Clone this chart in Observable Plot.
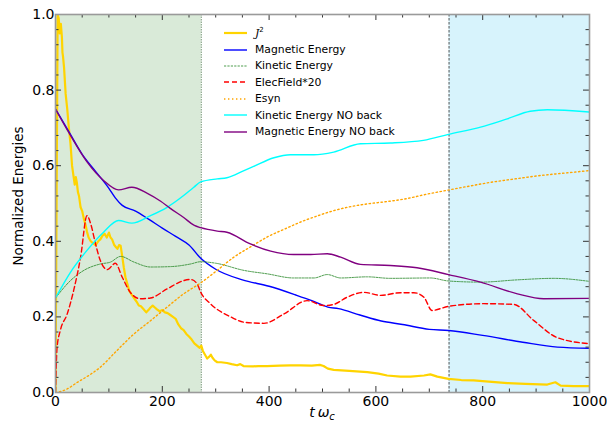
<!DOCTYPE html>
<html>
<head>
<meta charset="utf-8">
<script src="https://cdn.jsdelivr.net/npm/d3@7"></script>
<script src="https://cdn.jsdelivr.net/npm/@observablehq/plot@0.6"></script>
<style>
  body { margin: 0; background: #fff; }
  #wrap { position: relative; width: 607px; height: 426px; font-family: "DejaVu Sans", sans-serif; }
  #legend { position: absolute; left: 222px; top: 25px; font-size: 10.8px; color: #000; }
  .row { display: flex; align-items: center; height: 16.4px; }
  .row svg { width: 26px; height: 10px; margin-right: 7px; }
</style>
</head>
<body>
<div id="wrap"></div>
<script>
// ---------- data ----------
const xTicks = [0, 200, 400, 600, 800, 1000];
const yTicks = [0, 0.2, 0.4, 0.6, 0.8, 1.0];
const greenSpan = [0, 273];
const blueSpan = [737, 1000];

const j2 = [[0,0],[2,0.5],[4,1.0],[6,0.99],[8,0.95],[10,0.975],[12,0.94],[13,0.9],[14,0.89],[16,0.86],[19,0.79],[22,0.75],[25,0.7],[28,0.66],[31,0.6],[34,0.57],[36,0.55],[38,0.57],[40,0.555],[42,0.53],[44,0.52],[47,0.49],[50,0.48],[53,0.46],[56,0.445],[59,0.425],[62,0.41],[66,0.4],[70,0.395],[75,0.39],[80,0.4],[84,0.405],[88,0.415],[92,0.42],[96,0.41],[100,0.423],[103,0.41],[106,0.405],[110,0.39],[113,0.385],[116,0.38],[119,0.39],[122,0.388],[125,0.36],[128,0.33],[131,0.305],[134,0.29],[138,0.27],[142,0.26],[147,0.25],[152,0.24],[156,0.23],[160,0.228],[165,0.22],[170,0.212],[174,0.218],[178,0.225],[182,0.23],[186,0.225],[190,0.22],[195,0.215],[200,0.218],[205,0.212],[210,0.21],[215,0.205],[220,0.2],[225,0.195],[230,0.18],[235,0.17],[240,0.165],[245,0.155],[250,0.148],[255,0.14],[260,0.13],[265,0.124],[270,0.118],[273,0.124],[276,0.11],[280,0.1],[284,0.09],[288,0.095],[291,0.1],[294,0.092],[298,0.085],[303,0.08],[310,0.08],[321,0.078],[330,0.075],[340,0.072],[346,0.075],[352,0.07],[370,0.069],[380,0.07],[396,0.07],[420,0.071],[440,0.072],[459,0.072],[480,0.071],[495,0.073],[502,0.07],[510,0.063],[521,0.06],[550,0.057],[584,0.054],[605,0.05],[621,0.045],[646,0.042],[665,0.042],[690,0.045],[702,0.048],[715,0.042],[736,0.036],[760,0.033],[783,0.032],[800,0.03],[846,0.025],[880,0.023],[921,0.021],[936,0.027],[946,0.018],[970,0.017],[1000,0.017]];

const magnetic = [[0,0.75],[25,0.69],[50,0.63],[75,0.585],[100,0.54],[112,0.515],[125,0.495],[150,0.48],[175,0.458],[200,0.435],[225,0.413],[250,0.39],[272,0.355],[300,0.326],[350,0.298],[400,0.281],[450,0.258],[480,0.243],[510,0.226],[530,0.222],[570,0.205],[610,0.189],[650,0.18],[700,0.167],[736,0.164],[800,0.151],[875,0.133],[940,0.12],[1000,0.117]];

const kinetic = [[0,0.25],[28,0.296],[53,0.323],[84,0.34],[103,0.345],[122,0.36],[147,0.345],[178,0.332],[215,0.333],[253,0.34],[272,0.346],[300,0.342],[353,0.323],[396,0.314],[446,0.303],[484,0.303],[509,0.312],[534,0.303],[584,0.306],[627,0.302],[702,0.303],[736,0.295],[796,0.292],[865,0.298],[933,0.302],[1000,0.294]];

const elecField = [[0,0],[3,0.12],[9,0.164],[22,0.208],[34,0.27],[47,0.358],[59,0.468],[66,0.446],[75,0.393],[84,0.349],[97,0.325],[112,0.342],[125,0.305],[140,0.265],[159,0.248],[178,0.25],[209,0.274],[240,0.296],[253,0.299],[265,0.288],[272,0.265],[290,0.235],[328,0.2],[353,0.186],[390,0.183],[428,0.208],[471,0.243],[502,0.23],[521,0.233],[546,0.252],[577,0.265],[609,0.257],[646,0.264],[671,0.264],[690,0.252],[705,0.217],[736,0.228],[802,0.235],[858,0.233],[896,0.19],[940,0.145],[1000,0.129]];

const esyn = [[0,0],[20,0.008],[41,0.027],[60,0.043],[84,0.067],[115,0.111],[147,0.155],[178,0.19],[209,0.226],[240,0.261],[272,0.29],[300,0.32],[334,0.358],[365,0.385],[396,0.411],[430,0.433],[459,0.451],[490,0.467],[521,0.481],[550,0.491],[584,0.499],[620,0.505],[650,0.511],[700,0.526],[737,0.536],[775,0.546],[815,0.556],[860,0.565],[908,0.574],[950,0.58],[1000,0.587]];

const kineticNoBack = [[0,0.25],[28,0.318],[59,0.376],[90,0.424],[118,0.455],[143,0.448],[178,0.468],[209,0.49],[240,0.521],[259,0.543],[272,0.557],[303,0.565],[321,0.568],[353,0.587],[371,0.598],[409,0.621],[440,0.629],[484,0.629],[521,0.636],[571,0.658],[627,0.66],[689,0.667],[736,0.683],[796,0.702],[846,0.724],[889,0.744],[921,0.748],[1000,0.742]];

const magneticNoBack = [[0,0.75],[28,0.68],[59,0.61],[90,0.561],[118,0.536],[143,0.543],[172,0.527],[197,0.506],[215,0.487],[240,0.463],[260,0.442],[272,0.436],[303,0.427],[321,0.424],[365,0.393],[403,0.374],[446,0.365],[478,0.365],[509,0.367],[534,0.358],[571,0.339],[627,0.336],[677,0.33],[736,0.312],[796,0.292],[865,0.261],[914,0.248],[1000,0.249]];

const series = [
  {name: "J2", data: j2, stroke: "#FFD400", width: 2.2, dash: null, curve: "linear"},
  {name: "Magnetic Energy", data: magnetic, stroke: "#0000ff", width: 1.4, dash: null, curve: "monotone-x"},
  {name: "Kinetic Energy", data: kinetic, stroke: "#2e8b2e", width: 0.85, dash: "2.2,1.2", curve: "monotone-x"},
  {name: "ElecField*20", data: elecField, stroke: "#ff0000", width: 1.4, dash: "5,3", curve: "monotone-x"},
  {name: "Esyn", data: esyn, stroke: "#ffa500", width: 1.4, dash: "1.4,2.6", curve: "monotone-x"},
  {name: "Kinetic Energy NO back", data: kineticNoBack, stroke: "#00ffff", width: 1.4, dash: null, curve: "monotone-x"},
  {name: "Magnetic Energy NO back", data: magneticNoBack, stroke: "#800080", width: 1.4, dash: null, curve: "monotone-x"}
];

// ---------- chart ----------
const W = 607, H = 426, mL = 55, mR = 18, mT = 14, mB = 34;
const plotW = W - mL - mR, plotH = H - mT - mB;
const xMinor = d3.range(0, 1001, 50).filter(v => !xTicks.includes(v));
const yMinor = d3.range(0, 26).map(i => +(i * 0.04).toFixed(2)).filter(v => !yTicks.some(t => Math.abs(t - v) < 1e-9));
const majLen = 6, minLen = 3.5, tickCol = "#333";

const marks = [
  Plot.rect([greenSpan], {x1: d => d[0], x2: d => d[1], fill: "#d9ead8"}),
  Plot.rect([blueSpan], {x1: d => d[0], x2: d => d[1], fill: "#d7f3fc"}),
  Plot.ruleX([greenSpan[1]], {stroke: "#7a9a7a", strokeWidth: 1, strokeDasharray: "1.5,1"}),
  Plot.ruleX([blueSpan[0]], {stroke: "#555", strokeWidth: 1, strokeDasharray: "2.5,1.5"}),
  ...series.map(s => Plot.line(s.data, {x: d => d[0], y: d => d[1], stroke: s.stroke, strokeWidth: s.width, strokeDasharray: s.dash, curve: s.curve, clip: true})),
  // inward ticks on all four sides
  Plot.tickX(xTicks, {x: d => d, insetTop: plotH - majLen, stroke: tickCol}),
  Plot.tickX(xTicks, {x: d => d, insetBottom: plotH - majLen, stroke: tickCol}),
  Plot.tickX(xMinor, {x: d => d, insetTop: plotH - minLen, stroke: tickCol}),
  Plot.tickX(xMinor, {x: d => d, insetBottom: plotH - minLen, stroke: tickCol}),
  Plot.tickY(yTicks, {y: d => d, insetRight: plotW - majLen, stroke: tickCol}),
  Plot.tickY(yTicks, {y: d => d, insetLeft: plotW - majLen, stroke: tickCol}),
  Plot.tickY(yMinor, {y: d => d, insetRight: plotW - minLen, stroke: tickCol}),
  Plot.tickY(yMinor, {y: d => d, insetLeft: plotW - minLen, stroke: tickCol}),
  Plot.frame({stroke: "#9a9a9a", strokeWidth: 1.6}),
  Plot.axisX(xTicks, {tickSize: 0, tickPadding: 4, fontSize: 14, label: null, tickFormat: d => String(d)}),
  Plot.axisY(yTicks, {tickSize: 0, tickPadding: 1, fontSize: 14, label: null, tickFormat: d3.format(".1f")})
];

const chart = Plot.plot({
  width: W, height: H,
  marginLeft: mL, marginRight: mR, marginTop: mT, marginBottom: mB,
  style: {fontFamily: "DejaVu Sans, sans-serif", color: "#000", background: "transparent", overflow: "visible"},
  x: {domain: [0, 1000]},
  y: {domain: [0, 1]},
  marks
});
document.getElementById("wrap").appendChild(chart);

// axis titles
const svg = d3.select(chart);
svg.append("text")
  .attr("transform", `translate(19,${(mT + H - mB) / 2 - 7}) rotate(-90)`)
  .attr("text-anchor", "middle").attr("dominant-baseline", "middle")
  .attr("font-size", 13.5).attr("font-family", "DejaVu Sans, sans-serif").attr("fill", "#000")
  .text("Normalized Energies");
const xl = svg.append("text")
  .attr("x", mL + plotW / 2).attr("y", H - 9)
  .attr("text-anchor", "middle")
  .attr("font-size", 14).attr("font-family", "DejaVu Sans, sans-serif").attr("fill", "#000");
xl.append("tspan").attr("font-style", "italic").text("t");
xl.append("tspan").attr("font-style", "italic").attr("dx", 3).text("ω");
xl.append("tspan").attr("font-style", "italic").attr("font-size", 10).attr("dy", 3).text("c");

// legend
const legend = d3.select("#wrap").append("div").attr("id", "legend");
series.forEach(s => {
  const row = legend.append("div").attr("class", "row");
  const sv = row.append("svg");
  sv.append("line").attr("x1", 2).attr("x2", 25).attr("y1", 5).attr("y2", 5)
    .attr("stroke", s.stroke).attr("stroke-width", s.width)
    .attr("stroke-dasharray", s.dash);
  const lab = row.append("span");
  if (s.name === "J2") lab.html('<i style="font-family:\'DejaVu Serif\',serif">J</i><sup style="font-size:7px">2</sup>');
  else lab.text(s.name);
});
</script>
</body>
</html>
